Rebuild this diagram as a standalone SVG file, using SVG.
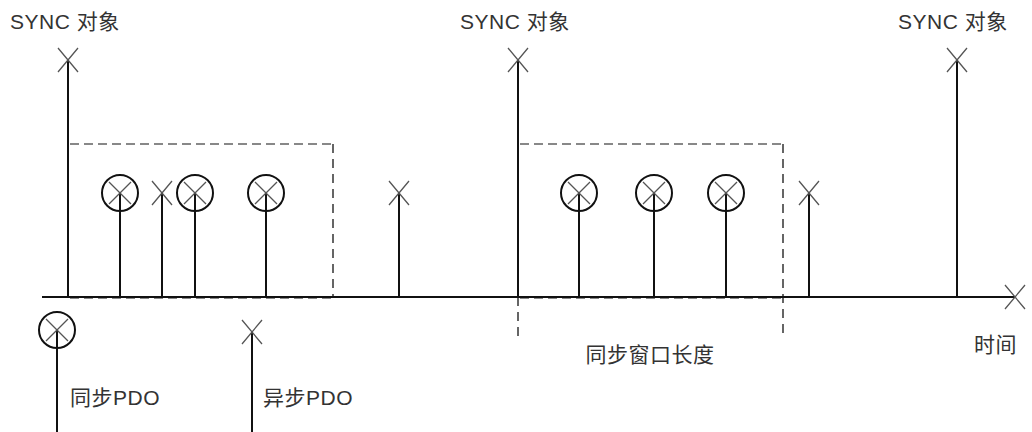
<svg xmlns="http://www.w3.org/2000/svg" width="1032" height="432" viewBox="0 0 1032 432">
<defs>
<style>
.t{font-family:"Liberation Sans","Noto Sans CJK SC",sans-serif;font-size:21px;letter-spacing:0.5px;fill:#333}
.ln{stroke:#111;stroke-width:2;fill:none}
.x{stroke:#555;stroke-width:1.3;fill:none}
.c{stroke:#111;stroke-width:2;fill:none}
.dh{stroke:#888;stroke-width:2;stroke-dasharray:9 5;fill:none}
.dv{stroke:#333;stroke-width:1.5;stroke-dasharray:9 6;fill:none}
</style>
<g id="xm"><path class="x" d="M-10,-12 L10,12 M10,-12 L-10,12"/></g>
<g id="cm"><circle class="c" cx="0" cy="0" r="18"/><path class="x" d="M-11,-11 L11,11 M11,-11 L-11,11"/></g>
</defs>
<rect width="1032" height="432" fill="#fff"/>
<g id="windows">
<path class="dh" d="M70,144 H333"/>
<path class="dv" d="M333,144 V297"/>
<path class="dh" d="M70,298 H333"/>
<path class="dh" d="M520,144 H783"/>
<path class="dv" d="M783,144 V338"/>
<path class="dv" d="M518,297 V338"/>
<path class="dh" d="M520,298 H783"/>
</g>
<g id="connectors">
<path class="ln" d="M42,297 H1015"/>
<path class="ln" d="M68,60 V297 M518,60 V297 M957,60 V297"/>
<path class="ln" d="M120,193 V297 M162,193 V297 M195,193 V297 M266,193 V297 M399,193 V297"/>
<path class="ln" d="M579,193 V297 M654,193 V297 M726,193 V297 M809,193 V297"/>
<path class="ln" d="M57,330 V432 M252,332 V432"/>
</g>
<g id="axis-end"><use href="#xm" x="1015" y="297"/></g>
<g id="sync1"><use href="#xm" x="68" y="60"/><text class="t" x="10" y="29">SYNC 对象</text></g>
<g id="sync2"><use href="#xm" x="518" y="60"/><text class="t" x="460" y="29">SYNC 对象</text></g>
<g id="sync3"><use href="#xm" x="957" y="60"/><text class="t" x="898" y="29">SYNC 对象</text></g>
<g id="pdo-a1"><use href="#cm" x="120" y="193"/></g>
<g id="pdo-b1"><use href="#xm" x="162" y="193"/></g>
<g id="pdo-a2"><use href="#cm" x="195" y="193"/></g>
<g id="pdo-a3"><use href="#cm" x="266" y="193"/></g>
<g id="pdo-b2"><use href="#xm" x="399" y="193"/></g>
<g id="pdo-a4"><use href="#cm" x="579" y="193"/></g>
<g id="pdo-a5"><use href="#cm" x="654" y="193"/></g>
<g id="pdo-a6"><use href="#cm" x="726" y="193"/></g>
<g id="pdo-b3"><use href="#xm" x="809" y="193"/></g>
<g id="window-label"><text class="t" x="650" y="362" text-anchor="middle">同步窗口长度</text></g>
<g id="time-label"><text class="t" x="974" y="352">时间</text></g>
<g id="legend-sync"><use href="#cm" x="57" y="330"/><text class="t" x="70" y="405">同步PDO</text></g>
<g id="legend-async"><use href="#xm" x="252" y="332"/><text class="t" x="263" y="405">异步PDO</text></g>
</svg>
